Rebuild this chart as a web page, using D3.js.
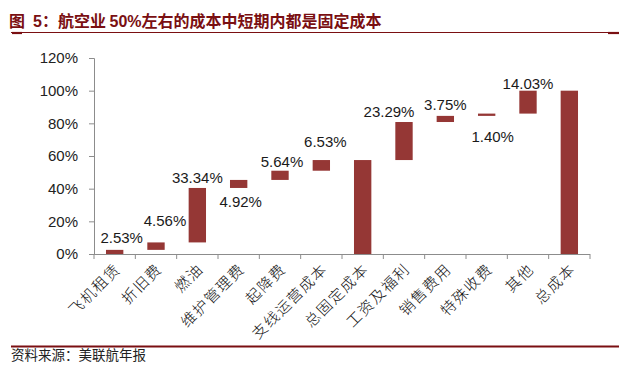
<!DOCTYPE html>
<html><head><meta charset="utf-8">
<script src="https://cdn.jsdelivr.net/npm/d3@7/dist/d3.min.js"></script>
<style>
html,body{margin:0;padding:0;background:#fff;}
svg{display:block;}
</style>
</head><body>
<script>
// ---- data ----
const categories = ["飞机租赁","折旧费","燃油","维护管理费","起降费","支线运营成本","总固定成本","工资及福利","销售费用","特殊收费","其他","总成本"];
const values = [2.53, 4.56, 33.34, 4.92, 5.64, 6.53, null, 23.29, 3.75, 1.40, 14.03, null]; // null = subtotal bar
const valueLabels = ["2.53%","4.56%","33.34%","4.92%","5.64%","6.53%","","23.29%","3.75%","1.40%","14.03%",""];
const yTicks = [0,20,40,60,80,100,120];
const titleText = "图 5：航空业 50%左右的成本中短期内都是固定成本";
const sourceText = "资料来源：美联航年报";

// label placement (style/layout, not data): side and pixel nudges
const labelSide = ["above","above","above","below","above","above","","above","above","below","above",""];
const labelNudge = [[7,-2],[9,-11],[0,0],[2,1],[2,1],[4,-8],[0,0],[-15,0],[0,-1],[6,8],[0,3],[0,0]];

const W = 619, H = 365;
const svg = d3.select("body").append("svg").attr("width", W).attr("height", H);

const red = "#7a0f12";
const barColor = "#953735";
const cjk = "'Noto Sans CJK SC', sans-serif";
const latin = "'Liberation Sans', Arial, sans-serif";

// title
const title = svg.append("text").attr("x", 9).attr("y", 27)
  .attr("fill", red).attr("font-weight", "bold").attr("font-size", 16)
  .attr("font-family", latin + ", " + cjk);
title.append("tspan").attr("font-family", cjk).text("图");
title.append("tspan").attr("dx", 8).text("5");
title.append("tspan").attr("font-family", cjk).text("：航空业 ");
title.append("tspan").text("50%");
title.append("tspan").attr("font-family", cjk).text("左右的成本中短期内都是固定成本");

svg.append("line").attr("x1", 11).attr("x2", 619).attr("y1", 32.5).attr("y2", 32.5)
  .attr("stroke", red).attr("stroke-width", 1.2);
svg.append("line").attr("x1", 12).attr("x2", 22).attr("y1", 33).attr("y2", 33)
  .attr("stroke", red).attr("stroke-width", 2.2);
svg.append("line").attr("x1", 608).attr("x2", 619).attr("y1", 33).attr("y2", 33)
  .attr("stroke", red).attr("stroke-width", 2.2);

// footer
svg.append("line").attr("x1", 11).attr("x2", 619).attr("y1", 346.5).attr("y2", 346.5)
  .attr("stroke", red).attr("stroke-width", 2);
svg.append("text").attr("x", 11).attr("y", 360).attr("font-family", cjk)
  .attr("font-size", 13.5).attr("fill", "#222").text(sourceText);

// scales
const x0 = 94, x1 = 590, yBase = 254, yTop = 58;
const x = d3.scaleBand().domain(categories).range([x0, x1]).paddingInner(0.58).paddingOuter(0.29);
const y = d3.scaleLinear().domain([0, 120]).range([yBase, yTop]);

// waterfall computation
let cum = 0;
const bars = categories.map((c, i) => {
  const v = values[i];
  if (v === null) return {c, i, lo: 0, hi: cum, total: true};
  const b = {c, i, lo: cum, hi: cum + v, total: false};
  cum += v;
  return b;
});

const g = svg.append("g");
g.selectAll("rect.bar").data(bars).join("rect")
  .attr("class", "bar")
  .attr("x", d => x(d.c))
  .attr("width", x.bandwidth())
  .attr("y", d => y(d.hi))
  .attr("height", d => Math.max(y(d.lo) - y(d.hi), 1.5))
  .attr("fill", barColor);

// value labels
g.selectAll("text.val").data(bars.filter(d => !d.total)).join("text")
  .attr("class", "val")
  .attr("x", d => x(d.c) + x.bandwidth() / 2 + labelNudge[d.i][0])
  .attr("y", d => (labelSide[d.i] === "below" ? y(d.lo) + 18 : y(d.hi) - 5) + labelNudge[d.i][1])
  .attr("text-anchor", "middle")
  .attr("font-family", latin).attr("font-size", 15).attr("fill", "#1a1a1a")
  .text(d => valueLabels[d.i]);

// y axis
const yAxis = d3.axisLeft(y).tickValues(yTicks).tickFormat(d => d + "%").tickSize(5).tickPadding(11);
const ya = svg.append("g").attr("transform", `translate(${x0},0)`).call(yAxis);
ya.select(".domain").attr("stroke", "#8c8c8c");
ya.selectAll(".tick line").attr("stroke", "#8c8c8c");
ya.selectAll(".tick text").attr("font-family", latin).attr("font-size", 15).attr("fill", "#222");

// x axis line and ticks at band boundaries
const step = x.step();
const bounds = d3.range(categories.length + 1).map(k => x0 + k * step);
svg.append("line").attr("x1", x0).attr("x2", x1).attr("y1", yBase + 0.5).attr("y2", yBase + 0.5)
  .attr("stroke", "#8c8c8c");
svg.selectAll("line.xt").data(bounds).join("line").attr("class", "xt")
  .attr("x1", d => d).attr("x2", d => d).attr("y1", yBase).attr("y2", yBase + 5)
  .attr("stroke", "#8c8c8c");

svg.selectAll("text.xl").data(categories).join("text").attr("class", "xl")
  .attr("transform", d => `translate(${x(d) + x.bandwidth() / 2 + 7},${yBase + 16}) rotate(-45)`)
  .attr("text-anchor", "end")
  .attr("font-family", cjk).attr("font-size", 15).attr("letter-spacing", 1.5)
  .attr("font-weight", 300).attr("fill", "#111")
  .text(d => d);
</script>
</body></html>
